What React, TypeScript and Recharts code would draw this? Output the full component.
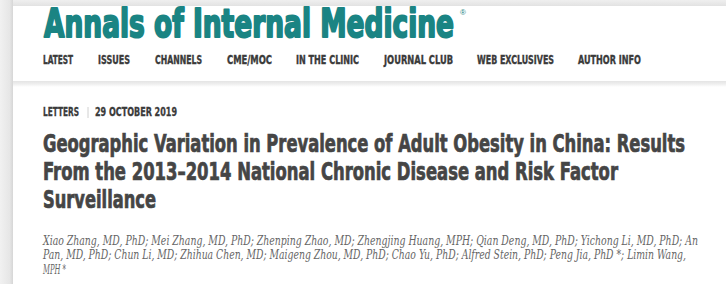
import React from 'react';
import { Surface, Layer } from 'recharts';

// ---- content ----
const brandName = 'Annals of Internal Medicine';
const brandMark = '®';
const navItems = ['LATEST', 'ISSUES', 'CHANNELS', 'CME/MOC', 'IN THE CLINIC', 'JOURNAL CLUB', 'WEB EXCLUSIVES', 'AUTHOR INFO'];
const articleType = 'LETTERS';
const articleDate = '29 OCTOBER 2019';
const titleLines = [
  'Geographic Variation in Prevalence of Adult Obesity in China: Results',
  'From the 2013–2014 National Chronic Disease and Risk Factor',
  'Surveillance',
];
const authorLines = [
  'Xiao Zhang, MD, PhD; Mei Zhang, MD, PhD; Zhenping Zhao, MD; Zhengjing Huang, MPH; Qian Deng, MD, PhD; Yichong Li, MD, PhD; An',
  'Pan, MD, PhD; Chun Li, MD; Zhihua Chen, MD; Maigeng Zhou, MD, PhD; Chao Yu, PhD; Alfred Stein, PhD; Peng Jia, PhD *; Limin Wang,',
  'MPH *',
];

// ---- layout (kept separate from content) ----
const W = 726;
const H = 284;
const LEFT = 43;
const navStart = [43, 98, 155, 227, 296, 384, 477, 578];
const navEnd = [73, 130, 202, 272, 359, 453, 554, 641];
const titleEnd = [685, 618, 156];
const authorEnd = [698, 686, 66];

const condensed = "'DejaVu Sans Condensed', 'DejaVu Sans', sans-serif";
const serif = "'DejaVu Serif Condensed', 'DejaVu Serif', serif";

export default function App() {
  return (
    <div style={{ position: 'fixed', left: 0, top: 0, width: W, height: H, background: '#fff' }}>
      <Surface width={W} height={H} viewBox={{ x: 0, y: 0, width: W, height: H }}>
        <defs>
          <linearGradient id="leftShade" x1="0" y1="0" x2="1" y2="0">
            <stop offset="0" stopColor="#f1f1f1" />
            <stop offset="0.75" stopColor="#e6e6e6" />
            <stop offset="1" stopColor="#d6d6d6" />
          </linearGradient>
          <linearGradient id="topShade" x1="0" y1="0" x2="0" y2="1">
            <stop offset="0" stopColor="#efefef" />
            <stop offset="1" stopColor="#e2e2e2" />
          </linearGradient>
          <linearGradient id="sepShade" x1="0" y1="0" x2="0" y2="1">
            <stop offset="0" stopColor="#e4e4e4" />
            <stop offset="0.5" stopColor="#efefef" />
            <stop offset="1" stopColor="#ffffff" />
          </linearGradient>
        </defs>
        <Layer>
          <rect x={0} y={0} width={W} height={H} fill="#ffffff" />
          <rect x={0} y={0} width={W} height={6} fill="url(#topShade)" />
          <rect x={0} y={0} width={13} height={H} fill="url(#leftShade)" />
          <rect x={13} y={81} width={W - 13} height={6} fill="url(#sepShade)" />
        </Layer>

        <Layer>
          <text
            x={LEFT + 1}
            y={37}
            fontFamily={condensed}
            fontWeight={700}
            fontSize={39.5}
            fill="#1a8483"
            stroke="#1a8483"
            strokeWidth={2}
            strokeLinejoin="round"
            textLength={453 - LEFT}
            lengthAdjust="spacingAndGlyphs"
          >
            {brandName}
          </text>
          <text x={460} y={15} fontFamily="'Liberation Sans', sans-serif" fontSize={8} fill="#1a8483">
            {brandMark}
          </text>
        </Layer>

        <Layer>
          {navItems.map((item, i) => (
            <text
              key={item}
              x={navStart[i]}
              y={64}
              fontFamily={condensed}
              fontWeight={700}
              fontSize={12}
              fill="#3a3a3a"
              stroke="#3a3a3a"
              strokeWidth={0.35}
              textLength={navEnd[i] - navStart[i]}
              lengthAdjust="spacingAndGlyphs"
            >
              {item}
            </text>
          ))}
        </Layer>

        <Layer>
          <text
            x={LEFT}
            y={116}
            fontFamily={condensed}
            fontWeight={700}
            fontSize={11.5}
            fill="#3a3a3a"
            stroke="#3a3a3a"
            strokeWidth={0.3}
            textLength={79 - LEFT}
            lengthAdjust="spacingAndGlyphs"
          >
            {articleType}
          </text>
          <line x1={88} y1={107} x2={88} y2={118} stroke="#d0d0d0" strokeWidth={1} />
          <text
            x={95}
            y={116}
            fontFamily={condensed}
            fontWeight={700}
            fontSize={11.5}
            fill="#3a3a3a"
            stroke="#3a3a3a"
            strokeWidth={0.3}
            textLength={177 - 95}
            lengthAdjust="spacingAndGlyphs"
          >
            {articleDate}
          </text>
        </Layer>

        <Layer>
          {titleLines.map((line, i) => (
            <text
              key={i}
              x={LEFT}
              y={152 + i * 28}
              fontFamily={condensed}
              fontWeight={700}
              fontSize={24}
              fill="#454545"
              stroke="#454545"
              strokeWidth={0.7}
              textLength={titleEnd[i] - LEFT}
              lengthAdjust="spacingAndGlyphs"
            >
              {line}
            </text>
          ))}
        </Layer>

        <Layer>
          {authorLines.map((line, i) => (
            <text
              key={i}
              x={43}
              y={244.5 + i * 14.5}
              fontFamily={serif}
              fontStyle="italic"
              fontSize={12.5}
              fill="#666666"
              textLength={authorEnd[i] - 43}
              lengthAdjust="spacingAndGlyphs"
            >
              {line}
            </text>
          ))}
        </Layer>
      </Surface>
    </div>
  );
}
